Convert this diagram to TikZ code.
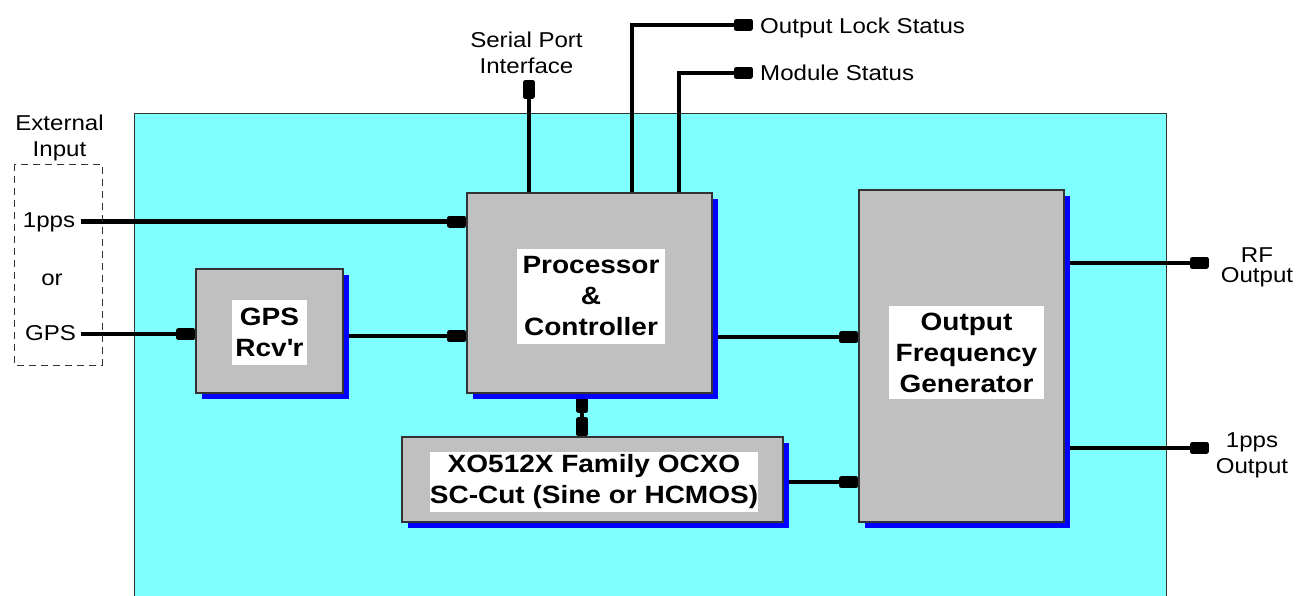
\documentclass[tikz,border=0pt]{standalone}
\usepackage{fontspec}
\setmainfont{Liberation Sans}[FakeStretch=1.12]
\usetikzlibrary{arrows.meta,shadows}
\definecolor{panelfill}{HTML}{80FFFF}
\definecolor{blockfill}{HTML}{C0C0C0}
\definecolor{blockshadow}{HTML}{0000FF}
\definecolor{blockline}{HTML}{333333}
\pgfdeclarelayer{back}
\pgfdeclarelayer{wires}
\pgfsetlayers{back,wires,main}
\tikzset{
  block/.style={draw=blockline, line width=1.5pt, fill=blockfill, inner sep=0pt,
    drop shadow={shadow xshift=6pt, shadow yshift=-6pt, fill=blockshadow, opacity=1}},
  tag/.style={fill=white, inner sep=0pt, align=center,
    font=\fontsize{25}{31}\selectfont\bfseries},
  lbl/.style={inner sep=0pt, align=center, font=\fontsize{21.5}{26}\selectfont},
  wire/.style={line width=4.5pt},
  plugtip/.tip={Rectangle[length=19pt,width=12pt,round]},
  sig/.style={wire, -plugtip},
  sigboth/.style={wire, plugtip-plugtip},
}
\begin{document}
\begin{tikzpicture}[x=1pt,y=-1pt]
\useasboundingbox (0,0) rectangle (1304,595);

% page ground and module housing
\begin{pgfonlayer}{back}
\fill[white] (0,0) rectangle (1304,595);
\node[draw=blockline, line width=1.2pt, fill=panelfill, inner sep=0pt,
      minimum width=1032pt, minimum height=500pt, anchor=north west] (panel) at (134,113) {};
\end{pgfonlayer}

% external input group
\draw[blockline, line width=1pt, dash pattern=on 7pt off 5pt] (14,164) rectangle (102,365);
\node[lbl, anchor=base] (ext) at (59.5,156) {External\\Input};
\node[lbl, anchor=base] (p1) at (49,227) {1pps};
\node[lbl, anchor=base] (orl) at (52,285.5) {or};
\node[lbl, anchor=base] (g1) at (50.5,340.5) {GPS};

% blocks
\node[block, minimum width=147pt, minimum height=124pt] (gps) at (269.5,331) {};
\node[tag, minimum width=75pt, minimum height=65pt] (gpsT) at (269.5,332.5) {GPS\\Rcv\textquotesingle r};

\node[block, minimum width=245pt, minimum height=200pt] (proc) at (589.5,293) {};
\node[tag, minimum width=148pt, minimum height=95pt] (procT) at (591,296.5) {Processor\\\&\\Controller};

\node[block, minimum width=381pt, minimum height=85pt] (ocxo) at (592.5,479.5) {};
\node[tag, minimum width=324pt, minimum height=60pt] (ocxoT) at (594,482) {XO512X Family OCXO\\SC-Cut (Sine or HCMOS)};

\node[block, minimum width=205pt, minimum height=332pt] (ofg) at (961.5,356) {};
\node[tag, minimum width=155pt, minimum height=93pt] (ofgT) at (966.5,352.5) {Output\\Frequency\\Generator};

% outside labels
\node[lbl, anchor=base] (spi) at (526.5,73) {Serial Port\\Interface};
\node[lbl, anchor=base west] (lock) at (760,33) {Output Lock Status};
\node[lbl, anchor=base west] (mod) at (760,80) {Module Status};
\node[lbl, anchor=base] (rf) at (1257,282) {RF\\[-6pt]Output};
\node[lbl, anchor=base] (ppso) at (1252,473) {1pps\\Output};

% free wire ends
\coordinate (x1) at (81,221.5);
\coordinate (x2) at (81,334);
\coordinate (spiend) at (529,80);
\coordinate (lockend) at (753,25);
\coordinate (modend) at (753,73);
\coordinate (rfend) at (1209,263);
\coordinate (ppsend) at (1209,448);

\begin{pgfonlayer}{wires}
\draw[sig] (x1) -- (x1 -| proc.west);
\draw[sig] (x2) -- (x2 -| gps.west);
\draw[sig] ([yshift=-5pt]gps.east) -- ([yshift=-5pt]gps.east -| proc.west);
\draw[sig] ([yshift=-44pt]proc.east) -- ([yshift=-44pt]proc.east -| ofg.west);
\draw[sig] ([yshift=-2.5pt]ocxo.east) -- ([yshift=-2.5pt]ocxo.east -| ofg.west);
\draw[sigboth] ([xshift=-7.5pt]proc.south) -- ([xshift=-7.5pt]proc.south |- ocxo.north);
\draw[sig] (proc.north -| spiend) -- (spiend);
\draw[sig] ([xshift=42.5pt]proc.north) |- (lockend);
\draw[sig] ([xshift=89.5pt]proc.north) |- (modend);
\draw[sig] ([yshift=93pt]ofg.east) -- (rfend);
\draw[sig] ([yshift=-92pt]ofg.east) -- (ppsend);
\end{pgfonlayer}
\end{tikzpicture}
\end{document}
